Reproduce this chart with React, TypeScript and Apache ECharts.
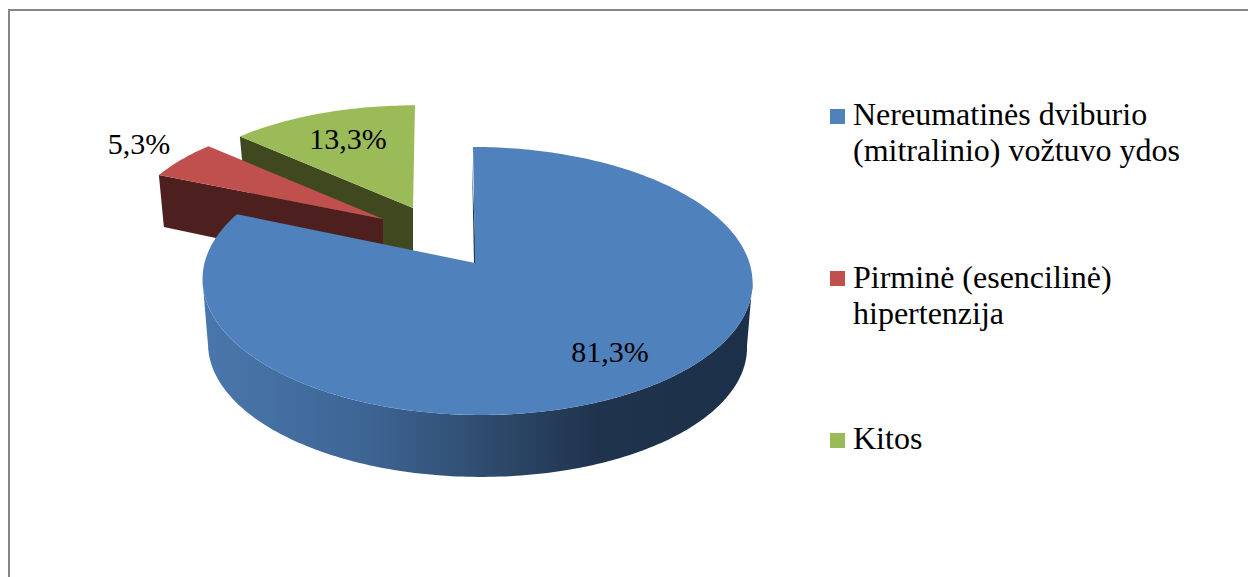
import React, { useEffect, useRef } from "react";
import * as echarts from "echarts";

const categories = ["Nereumatinės dviburio\n(mitralinio) vožtuvo ydos", "Pirminė (esencilinė)\nhipertenzija", "Kitos"];
const values = [81.3, 5.3, 13.3];
const colors = ["#4f81bd", "#c0504d", "#9bbb59"];
const faceColors = ["#1d3049", "#4e1f1f", "#40481f"];

const FONT = "'Liberation Serif', 'Times New Roman', serif";
const P = 0.134;
const A = 272.5;
const B = 131.6;

type Cfg = { ax: number; ay: number; kx: number; ky: number; off: number; lean: number; depth: number; lx: number; ly: number; z: number };
const configs: Cfg[] = [
  { ax: 475, ay: 263, kx: 1, ky: 1, off: 2, lean: 4, depth: 65, lx: 610, ly: 351, z: 3 },
  { ax: 383, ay: 219, kx: 0.94, ky: 0.9, off: 0, lean: 0, depth: 54, lx: 139, ly: 143, z: 2 },
  { ax: 413, ay: 208, kx: 0.94, ky: 0.885, off: 0, lean: -2, depth: 56, lx: 348, ly: 138, z: 1 },
];
const legendPos = [
  { y: 114, my: 109 },
  { y: 277, my: 271 },
  { y: 438, my: 433 },
];

const total = values.reduce((a, b) => a + b, 0);
const rad = (d: number) => (d * Math.PI) / 180;

function rim(deg: number, c: Cfg, f = 1, dy = 0): number[] {
  const s = Math.sin(rad(deg));
  const v = -Math.cos(rad(deg));
  const w = 1 - P * v;
  return [c.ax + c.off + c.lean * v + (f * c.kx * A * s) / w, c.ay + dy + (f * c.ky * B * v) / w];
}

function arc(from: number, to: number, c: Cfg, f = 1, dy = 0): number[][] {
  const pts: number[][] = [];
  const n = Math.max(2, Math.ceil(Math.abs(to - from)));
  for (let i = 0; i <= n; i++) pts.push(rim(from + ((to - from) * i) / n, c, f, dy));
  return pts;
}

function makeRenderItem(index: number) {
  return (_params: any, api: any) => {
    const value = api.value(0) as number;
    const before = values.slice(0, index).reduce((a, b) => a + b, 0);
    const start = (before / total) * 360;
    const end = start + (value / total) * 360;
    const c = configs[index];
    const children: any[] = [];
    if (index === 0) {
      const tangent = (Math.acos(-P) * 180) / Math.PI;
      const wall = [...arc(tangent, 360 - tangent, c), ...arc(360 - tangent, tangent, c, 0.98, c.depth)];
      children.push({
        type: "polygon",
        shape: { points: wall },
        style: {
          fill: new echarts.graphic.LinearGradient(202, 0, 752, 0, [
            { offset: 0, color: "#4a77ac" },
            { offset: 0.3, color: "#3d6594" },
            { offset: 0.52, color: "#2e4b6d" },
            { offset: 0.72, color: "#1f334c" },
            { offset: 1, color: "#1d3049" },
          ], true),
        },
      });
      const back = rim(start, c);
      children.push({
        type: "polygon",
        shape: { points: [[back[0] - 1, back[1] + 14], [c.ax + 1, c.ay], [c.ax - 1, c.ay]] },
        style: { fill: faceColors[0] },
      });
    } else {
      const p = rim(start, c);
      children.push({
        type: "polygon",
        shape: { points: [p, [c.ax, c.ay], [c.ax, c.ay + c.depth], [p[0] + 5, p[1] + c.depth - 2]] },
        style: { fill: faceColors[index] },
      });
    }
    children.push({
      type: "polygon",
      shape: { points: [[c.ax, c.ay], ...arc(start, end, c)] },
      style: { fill: colors[index] },
    });
    children.push({
      type: "text",
      x: c.lx,
      y: c.ly,
      style: {
        text: `${value.toFixed(1).replace(".", ",")}%`,
        font: `30px ${FONT}`,
        fill: "#000",
        align: "center",
        verticalAlign: "middle",
      },
    });
    return { type: "group", children };
  };
}

export default function App() {
  const ref = useRef<HTMLDivElement>(null);
  useEffect(() => {
    const chart = echarts.init(ref.current!, undefined, { renderer: "svg" });
    chart.setOption({
      animation: false,
      backgroundColor: "#ffffff",
      graphic: [
        { type: "rect", shape: { x: 9, y: 10, width: 1400, height: 800 }, style: { fill: "none", stroke: "#868686", lineWidth: 2 }, z: 0 },
        ...categories.flatMap((name, i) => [
          { type: "rect", shape: { x: 830, y: legendPos[i].my, width: 15, height: 15 }, style: { fill: colors[i] } },
          {
            type: "text",
            x: 853,
            y: legendPos[i].y - 18,
            style: { text: name, font: `32px ${FONT}`, lineHeight: 36, fill: "#000", align: "left", verticalAlign: "top" },
          },
        ]),
      ],
      series: categories.map((name, i) => ({
        type: "custom",
        name,
        coordinateSystem: "none",
        z: configs[i].z,
        silent: true,
        data: [[values[i]]],
        renderItem: makeRenderItem(i),
      })),
    });
    return () => chart.dispose();
  }, []);
  return <div ref={ref} style={{ position: "fixed", left: 0, top: 0, width: 1248, height: 577 }} />;
}
